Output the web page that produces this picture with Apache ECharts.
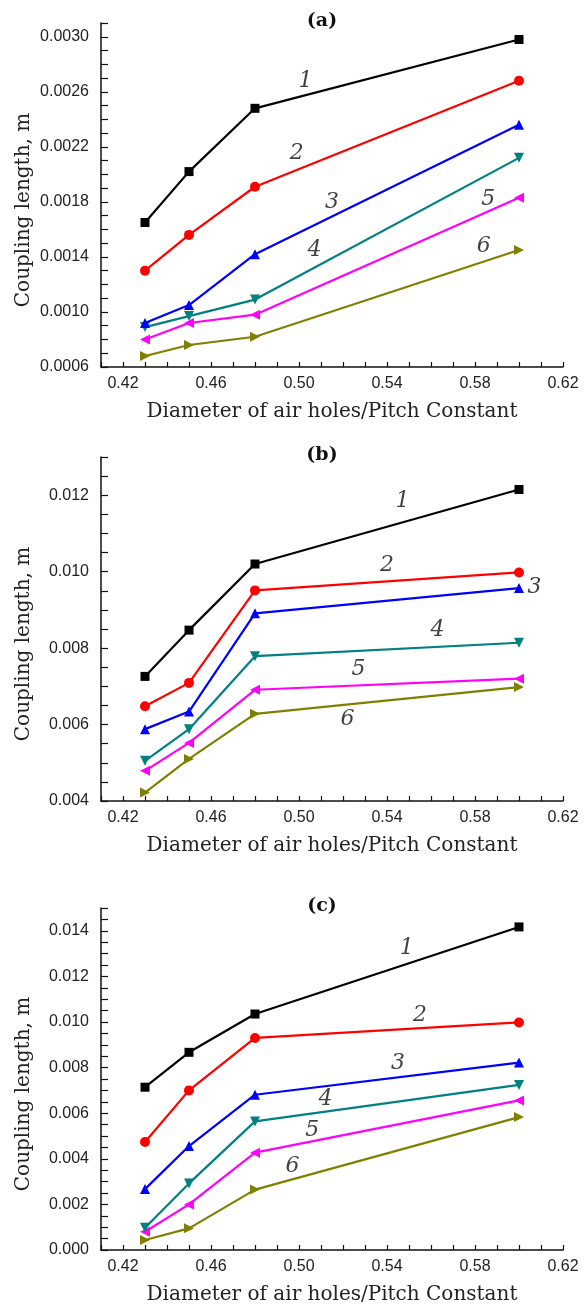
<!DOCTYPE html>
<html>
<head>
<meta charset="utf-8">
<script src="https://cdn.jsdelivr.net/npm/echarts@6/dist/echarts.min.js"></script>
<style>
html, body { margin: 0; padding: 0; background: #fff; }
#chart { width: 586px; height: 1306px; }
</style>
</head>
<body>
<div id="chart"></div>
<script>
// d/Λ values shared by all panels
const ratios = [0.43, 0.45, 0.48, 0.60];

// panel (a)
const a1 = [0.00165, 0.00202, 0.00248, 0.00298];
const a2 = [0.00130, 0.00156, 0.00191, 0.00268];
const a3 = [0.00092, 0.00105, 0.00142, 0.00236];
const a4 = [0.00089, 0.00097, 0.00109, 0.00212];
const a5 = [0.00080, 0.00092, 0.00098, 0.00183];
const a6 = [0.00068, 0.00076, 0.00082, 0.00145];
const tagsA = [[0.503, 0.00268], [0.499, 0.00215], [0.515, 0.00180], [0.507, 0.00145], [0.586, 0.00182], [0.584, 0.00148]];

// panel (b)
const b1 = [0.00726, 0.00847, 0.01020, 0.01215];
const b2 = [0.00648, 0.00709, 0.00951, 0.00998];
const b3 = [0.00588, 0.00634, 0.00891, 0.00957];
const b4 = [0.00505, 0.00588, 0.00779, 0.00814];
const b5 = [0.00479, 0.00552, 0.00691, 0.00720];
const b6 = [0.00422, 0.00510, 0.00628, 0.00698];
const tagsB = [[0.547, 0.01184], [0.540, 0.01018], [0.607, 0.00959], [0.563, 0.00847], [0.527, 0.00744], [0.522, 0.00615]];

// panel (c)
const c1 = [0.00714, 0.00867, 0.01035, 0.01417];
const c2 = [0.00474, 0.00700, 0.00930, 0.00998];
const c3 = [0.00267, 0.00456, 0.00681, 0.00822];
const c4 = [0.00098, 0.00292, 0.00564, 0.00724];
const c5 = [0.00080, 0.00200, 0.00427, 0.00656];
const c6 = [0.00044, 0.00095, 0.00265, 0.00583];
const tagsC = [[0.549, 0.01322], [0.555, 0.01031], [0.545, 0.00819], [0.512, 0.00659], [0.506, 0.00525], [0.497, 0.00369]];

const colors = ['#000000', '#ff0000', '#0000ff', '#008080', '#ff00ff', '#808000'];
const symbols = ['rect', 'circle', 'triangle', 'path://M0,0L10,0L5,9Z', 'path://M9,0L9,10L0,5Z', 'path://M0,0L9,5L0,10Z'];
const symbolSizes = [9, 10, 10, 10, 10, 10];

const serif = '"DejaVu Serif", "Liberation Serif", serif';
const sans = '"Liberation Sans", Arial, sans-serif';

const onStep = (v, base, step) => {
	const k = (v - base) / step;
	return Math.abs(k - Math.round(k)) < 1e-6;
};

const panels = [
	{ tag: '(a)', top: 23, min: 0.0006, max: 0.0031, tick: 0.0001, every: 0.0004, dec: 4, sets: [a1, a2, a3, a4, a5, a6], tags: tagsA },
	{ tag: '(b)', top: 457, min: 0.004, max: 0.013, tick: 0.0005, every: 0.002, dec: 3, sets: [b1, b2, b3, b4, b5, b6], tags: tagsB },
	{ tag: '(c)', top: 908, min: 0, max: 0.015, tick: 0.0005, every: 0.002, dec: 3, sets: [c1, c2, c3, c4, c5, c6], tags: tagsC },
];

const plotH = 344;
const grid = [], xAxis = [], yAxis = [], series = [], graphic = [];

panels.forEach((p, i) => {
	grid.push({ left: 101, width: 462, top: p.top, height: plotH });
	xAxis.push({
		gridIndex: i,
		type: 'value',
		min: 0.41,
		max: 0.62,
		interval: 0.01,
		name: 'Diameter of air holes/Pitch Constant',
		nameLocation: 'middle',
		nameGap: 35,
		nameMoveOverlap: false,
		nameTextStyle: { fontFamily: serif, fontSize: 20, color: '#222' },
		axisLine: { lineStyle: { color: '#111', width: 1.5 } },
		axisTick: { inside: true, length: 5, lineStyle: { color: '#111', width: 1.2 } },
		axisLabel: {
			margin: 9,
			fontFamily: sans,
			fontSize: 16,
			color: '#222',
			formatter: (v) => (v > 0.415 && onStep(v, 0.42, 0.04) ? v.toFixed(2) : ''),
		},
		splitLine: { show: false },
	});
	yAxis.push({
		gridIndex: i,
		type: 'value',
		min: p.min,
		max: p.max,
		interval: p.tick,
		name: 'Coupling length, m',
		nameLocation: 'middle',
		nameGap: 67,
		nameMoveOverlap: false,
		nameTextStyle: { fontFamily: serif, fontSize: 20, color: '#222', padding: [0, 30, 0, 0] },
		axisLine: { show: true, lineStyle: { color: '#111', width: 1.5 } },
		axisTick: { inside: true, length: 7, lineStyle: { color: '#111', width: 1.2 } },
		axisLabel: {
			margin: 12,
			fontFamily: sans,
			fontSize: 16,
			color: '#222',
			formatter: (v) => (onStep(v, p.min, p.every) ? v.toFixed(p.dec) : ''),
		},
		splitLine: { show: false },
	});
	p.sets.forEach((vals, k) => {
		series.push({
			type: 'line',
			xAxisIndex: i,
			yAxisIndex: i,
			data: vals.map((v, j) => [ratios[j], v]),
			symbol: symbols[k],
			symbolSize: symbolSizes[k],
			showAllSymbol: true,
			lineStyle: { color: colors[k], width: 2.2 },
			itemStyle: { color: colors[k] },
			z: 3 + (6 - k),
			animation: false,
		});
	});
	series.push({
		type: 'scatter',
		xAxisIndex: i,
		yAxisIndex: i,
		data: p.tags.map((t, k) => [t[0], t[1], String(k + 1)]),
		symbolSize: 1,
		itemStyle: { color: 'transparent' },
		label: {
			show: true,
			position: 'inside',
			formatter: (d) => d.data[2],
			fontFamily: serif,
			fontStyle: 'italic',
			fontSize: 22,
			color: '#111',
		},
		animation: false,
	});
	graphic.push({
		type: 'text',
		x: 322,
		y: p.top - 2,
		style: { text: p.tag, align: 'center', verticalAlign: 'middle', font: 'bold 19px ' + serif, fill: '#111' },
	});
});

const chart = echarts.init(document.getElementById('chart'));
chart.setOption({
	animation: false,
	backgroundColor: '#fff',
	grid,
	xAxis,
	yAxis,
	series,
	graphic,
});
</script>
</body>
</html>
